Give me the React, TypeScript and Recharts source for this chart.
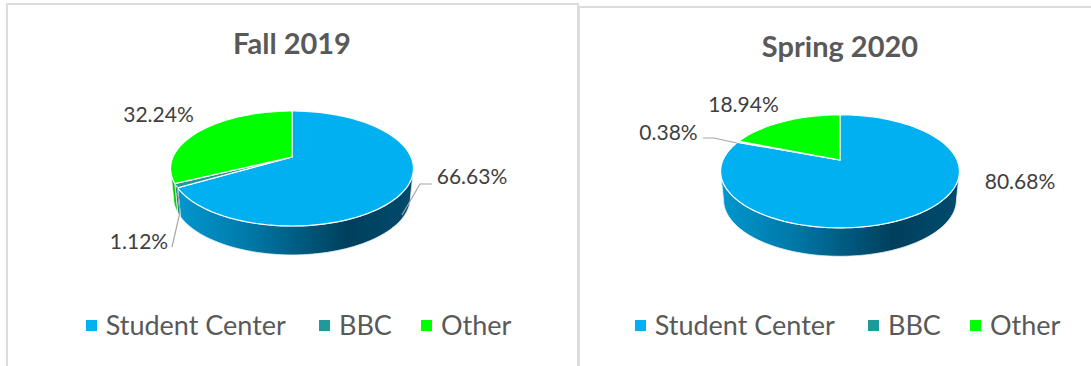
import { PieChart, Pie, Legend } from 'recharts'

const categories = ['Student Center', 'BBC', 'Other']
const fallValues = [66.63, 1.12, 32.24]
const springValues = [80.68, 0.38, 18.94]
const colors = ['#00b0f0', '#1f9a9a', '#00ff00']
const wallColors = ['url(#wallBlue)', '#178383', '#00d000']

// label centres and leader lines, relative to the pie's apex
const fallLabels = [
  { dx: 180, dy: 18, leader: [[140, 27], [128, 27], [110, 58]] },
  { dx: -153, dy: 83, leader: [[-120, 90], [-112, 55], [-115, 28]] },
  { dx: -133.5, dy: -43.5, leader: [] },
]
const springLabels = [
  { dx: 180, dy: 20, leader: [] },
  { dx: -171.5, dy: -28.5, leader: [[-137, -22], [-126, -22], [-103, -17]] },
  { dx: -96.5, dy: -56.5, leader: [] },
]
const legendGaps = [0, 33, 29]

const font = 'Lato, sans-serif'
const TILT = 0.464 // vertical squash of the disc
const PERSPECTIVE = 0.2
const DEPTH = 0.243 // wall height / radius
const SHRINK = 0.025 // bottom rim is a bit narrower

const makeRows = (values: number[]) =>
  categories.map((name, i) => ({ name, value: values[i], fill: colors[i] }))

// clockwise degrees from 12 o'clock, z = 0 top rim, 1 bottom rim
function project(cx: number, cy: number, r: number, deg: number, z = 0) {
  const t = (deg * Math.PI) / 180
  const u = Math.sin(t)
  const v = -Math.cos(t)
  const w = 1 - PERSPECTIVE * v
  return [
    cx + ((r * u) / w) * (1 - SHRINK * z),
    cy + (r * TILT * v) / w + z * DEPTH * r,
  ]
}

function arcPoints(cx: number, cy: number, r: number, a: number, b: number, z = 0) {
  const n = Math.max(2, Math.ceil(Math.abs(b - a) / 2))
  const pts: number[][] = []
  for (let i = 0; i <= n; i++) pts.push(project(cx, cy, r, a + ((b - a) * i) / n, z))
  return pts
}

const toPath = (pts: number[][]) =>
  'M' + pts.map((p) => `${p[0].toFixed(2)},${p[1].toFixed(2)}`).join('L') + 'Z'

function Slice(props: any) {
  const { cx, cy, outerRadius: r, startAngle, endAngle, index } = props
  const a = 90 - startAngle
  const b = 90 - endAngle
  // only the front of the rim shows a wall
  const wa = Math.max(a, 102)
  const wb = Math.min(b, 258)
  const top = [[cx, cy], ...arcPoints(cx, cy, r, a, b)]
  return (
    <g>
      <defs>
        <linearGradient id="wallBlue" x1="0" y1="0" x2="1" y2="0">
          <stop offset="0%" stopColor="#0097cf" />
          <stop offset="30%" stopColor="#0079a9" />
          <stop offset="72%" stopColor="#003f5c" />
          <stop offset="100%" stopColor="#004b6e" />
        </linearGradient>
      </defs>
      {wb > wa && (
        <path
          d={toPath([
            ...arcPoints(cx, cy, r, wa, wb),
            ...arcPoints(cx, cy, r, wb, wa, 1),
          ])}
          fill={wallColors[index]}
          stroke="#e4f1f6"
          strokeWidth={0.8}
        />
      )}
      <path d={toPath(top)} fill={colors[index]} stroke="#ffffff" strokeWidth={1.2} />
    </g>
  )
}

function makeLabel(layout: typeof fallLabels) {
  return (props: any) => {
    const { cx, cy, index, value } = props
    const item = layout[index]
    return (
      <g>
        {item.leader.length > 0 && (
          <polyline
            points={item.leader.map((p) => `${cx + p[0]},${cy + p[1]}`).join(' ')}
            fill="none"
            stroke="#a6a6a6"
            strokeWidth={1.2}
          />
        )}
        <text
          x={cx + item.dx}
          y={cy + item.dy}
          textAnchor="middle"
          dominantBaseline="central"
          fontFamily={font}
          fontSize={21}
          fill="#404040"
        >
          {value.toFixed(2)}%
        </text>
      </g>
    )
  }
}

function LegendRow({ payload }: any) {
  return (
    <div style={{ display: 'flex', justifyContent: 'center', alignItems: 'center' }}>
      {payload.map((entry: any, i: number) => (
        <div key={entry.value} style={{ display: 'flex', alignItems: 'center', marginLeft: legendGaps[i] }}>
          <span style={{ width: 11, height: 11, background: colors[i], marginRight: 9 }} />
          <span style={{ fontFamily: font, fontSize: 27, color: '#595959', lineHeight: '30px' }}>
            {entry.value}
          </span>
        </div>
      ))}
    </div>
  )
}

function Panel({ title, values, labels, left, top, width, height, cx, cy, radius, titleTop, legendShift }: any) {
  return (
    <div
      style={{
        position: 'absolute',
        left,
        top,
        width,
        height,
        boxSizing: 'border-box',
        borderTop: '2px solid #dcdcdc',
        borderLeft: '2px solid #dcdcdc',
        borderRight: '2px solid #dcdcdc',
      }}
    >
      <div
        style={{
          position: 'absolute',
          left: 0,
          width: cx * 2,
          top: titleTop,
          textAlign: 'center',
          fontFamily: font,
          fontWeight: 700,
          fontSize: 29,
          lineHeight: '32px',
          color: '#595959',
        }}
      >
        {title}
      </div>
      <PieChart width={width - 4} height={height - 2} margin={{ top: 0, right: 0, bottom: 0, left: 0 }}>
        <Pie
          data={makeRows(values)}
          dataKey="value"
          nameKey="name"
          cx={cx}
          cy={cy}
          outerRadius={radius}
          startAngle={90}
          endAngle={-270}
          stroke="none"
          shape={Slice}
          label={makeLabel(labels)}
          labelLine={false}
          isAnimationActive={false}
        />
        <Legend
          verticalAlign="bottom"
          itemSorter={null}
          content={LegendRow}
          wrapperStyle={{ bottom: 26, left: legendShift }}
        />
      </PieChart>
    </div>
  )
}

export default function App() {
  return (
    <div style={{ position: 'absolute', left: 0, top: 0, width: 1091, height: 366, overflow: 'hidden', background: '#fff' }}>
      <Panel
        title="Fall 2019"
        values={fallValues}
        labels={fallLabels}
        left={6}
        top={3}
        width={573}
        height={363}
        cx={284}
        cy={152}
        radius={119}
        titleTop={22}
        legendShift={6}
      />
      <Panel
        title="Spring 2020"
        values={springValues}
        labels={springLabels}
        left={578}
        top={6}
        width={515}
        height={360}
        cx={260}
        cy={152}
        radius={117}
        titleTop={22}
        legendShift={12}
      />
    </div>
  )
}
